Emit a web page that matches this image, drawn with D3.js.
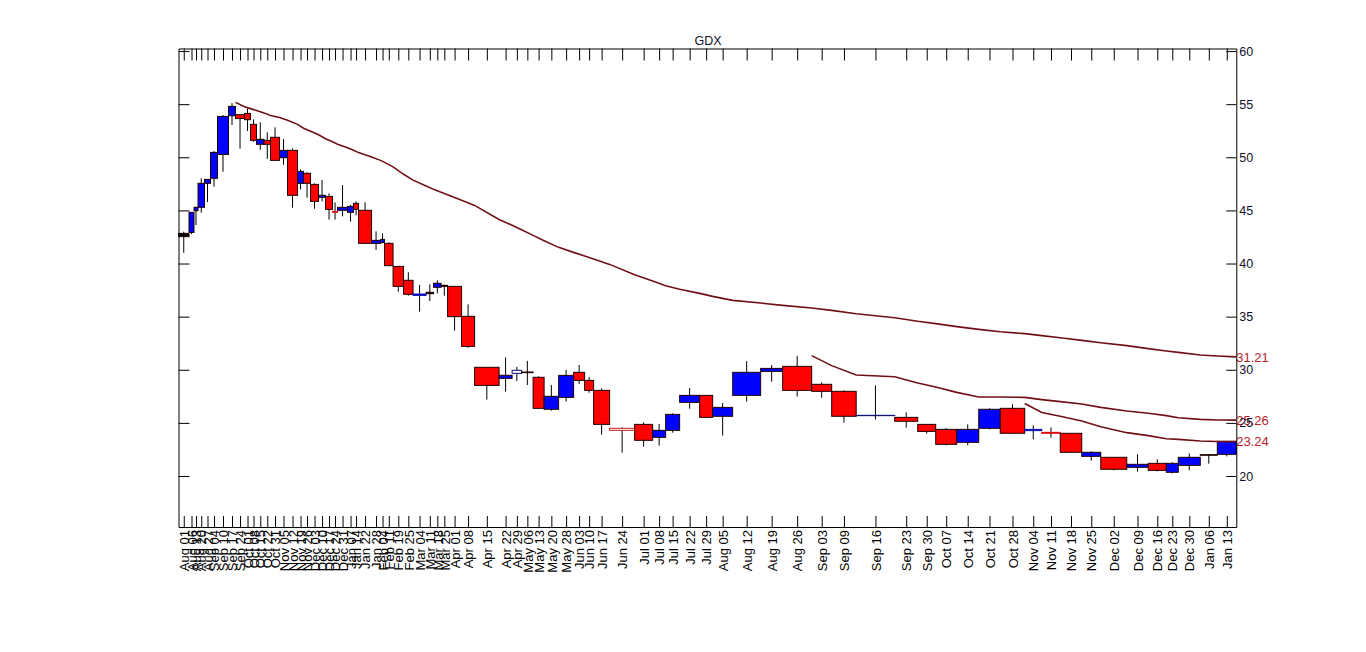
<!DOCTYPE html>
<html>
<head>
<meta charset="utf-8">
<script src="https://cdn.jsdelivr.net/npm/d3@7.9.0/dist/d3.min.js"></script>
<style>
  body { margin: 0; background: #fff; }
  text { font-family: "Liberation Sans", Arial, sans-serif; }
</style>
</head>
<body>
<svg id="chart" width="1366" height="652"></svg>
<script>
// weekly bars, Aug 2012 - Jan 2014
const dates = ["Aug 01","Aug 06","Aug 13","Aug 20","Aug 27","Sep 04","Sep 10","Sep 17","Sep 24","Oct 01","Oct 08","Oct 15","Oct 22","Oct 31","Nov 05","Nov 12","Nov 19","Nov 26","Dec 03","Dec 10","Dec 17","Dec 24","Dec 31","Jan 07","Jan 14","Jan 22","Jan 28","Feb 04","Feb 11","Feb 19","Feb 25","Mar 04","Mar 11","Mar 18","Mar 25","Apr 01","Apr 08","Apr 15","Apr 22","Apr 29","May 06","May 13","May 20","May 28","Jun 03","Jun 10","Jun 17","Jun 24","Jul 01","Jul 08","Jul 15","Jul 22","Jul 29","Aug 05","Aug 12","Aug 19","Aug 26","Sep 03","Sep 09","Sep 16","Sep 23","Sep 30","Oct 07","Oct 14","Oct 21","Oct 28","Nov 04","Nov 11","Nov 18","Nov 25","Dec 02","Dec 09","Dec 16","Dec 23","Dec 30","Jan 06","Jan 13"];
// candle width follows volume
const volumes = [21,10,8,13,12,14,22,14,18,12,12,15,13,18,16,20,12,14,16,14,14,10,20,12,10,26,18,8,17,21,19,26,15,15,13,28,26,49,26,19,23,22,29,30,22,18,32,50,36,26,28,40,26,40,56,44,58,40,49,77,46,36,42,44,43,49,34,37,43,38,52,43,36,24,44,34,38];
const opens = [42.53,42.93,44.97,45.29,47.55,48.02,50.27,53.91,54.01,54.13,53.10,51.22,51.59,51.88,49.96,50.65,47.55,48.49,47.45,46.23,46.32,44.91,45.01,44.82,45.66,45.01,41.90,41.99,41.90,39.73,38.42,37.00,37.16,37.76,37.85,37.85,35.03,30.23,29.19,29.66,29.73,29.29,26.28,27.40,29.76,29.00,28.06,24.49,24.86,23.64,24.30,26.93,27.59,25.62,27.59,29.85,30.32,28.63,27.97,25.68,25.52,24.86,24.39,23.17,24.49,26.37,24.27,24.11,24.02,21.85,21.76,20.82,21.19,20.35,21.00,21.95,22.04];
const highs = [43.00,44.85,45.35,48.02,47.95,50.59,53.98,55.10,54.02,54.60,53.57,53.29,52.35,52.82,51.72,50.84,48.86,48.58,47.55,47.86,46.60,45.76,47.39,45.51,45.85,45.76,43.03,42.84,41.99,39.73,39.17,37.98,38.04,38.42,38.01,37.85,36.16,30.23,31.17,30.26,30.83,29.38,28.56,29.98,30.45,29.32,28.25,24.58,25.05,24.89,25.90,28.28,27.59,26.87,30.82,30.45,31.29,28.82,28.06,28.53,25.99,24.86,24.49,24.86,26.37,26.75,24.77,24.58,24.02,22.32,21.76,22.04,21.57,21.29,22.13,22.04,23.26];
const lows = [41.02,42.78,43.62,44.78,45.79,47.23,48.64,53.04,50.81,52.47,51.47,50.71,49.84,49.71,49.30,45.26,46.98,46.20,45.16,45.85,44.13,44.13,44.44,43.94,44.53,41.90,41.27,41.90,39.80,37.35,36.97,35.47,36.47,37.19,36.97,33.68,32.08,27.19,27.94,28.94,28.57,26.37,26.15,27.00,28.66,27.84,23.89,22.20,22.76,22.86,24.08,26.34,25.52,23.80,27.00,28.88,27.47,27.37,25.02,25.33,24.55,23.98,22.89,22.89,24.39,24.02,23.45,23.61,22.23,21.44,20.53,20.41,20.44,20.25,20.53,21.16,21.85];
const closes = [42.84,44.82,45.29,47.55,47.92,50.46,53.85,54.79,53.66,53.54,51.59,51.69,51.22,49.71,50.65,46.42,48.67,47.55,45.85,46.42,45.10,44.82,45.29,45.38,45.10,41.90,42.18,42.27,39.80,37.85,37.10,37.13,37.29,38.14,37.95,35.00,32.20,28.53,29.48,29.95,29.79,26.37,27.50,29.47,29.00,28.06,24.86,24.30,23.36,24.30,25.80,27.59,25.52,26.46,29.76,30.13,28.06,27.97,25.62,25.71,25.15,24.20,22.98,24.39,26.28,24.02,24.39,24.02,22.23,22.23,20.63,21.10,20.53,21.19,21.76,22.01,23.26];

// moving averages, each one ends on the last bar
const maLong = [55.17,54.75,54.58,54.40,54.18,53.93,53.74,53.48,53.10,52.74,52.46,52.12,51.74,51.46,51.22,50.90,50.66,50.44,50.02,49.71,49.52,49.10,48.40,47.85,47.30,46.98,46.72,46.48,45.95,45.47,44.15,43.60,43.18,42.65,42.15,41.52,41.05,40.70,40.42,39.92,38.95,38.35,37.91,37.57,37.19,36.91,36.53,36.28,36.06,35.81,35.59,35.28,34.90,34.56,34.34,34.06,33.80,33.58,33.40,33.21,33.02,32.77,32.55,32.27,31.99,31.77,31.64,31.39,31.30,31.21];
const maMid = [31.33,30.39,29.51,29.35,28.75,28.38,27.87,27.44,27.44,27.40,27.19,27.00,26.78,26.46,26.12,25.90,25.68,25.49,25.33,25.27,25.26];
const maShort = [26.82,25.97,25.62,25.17,24.64,24.08,23.80,23.51,23.45,23.29,23.25,23.24];

const priceTicks = [20,25,30,35,40,45,50,55,60];

// bars that came out as plain lines or open boxes in the original
const blackBars = ["Aug 01","Mar 11","Mar 25","May 06","Jan 06"];
const bareBars = ["Dec 24","Mar 04","Sep 16","Nov 04","Nov 11"];
const hollowBars = ["Apr 29","Jun 24"];

const svg = d3.select('#chart');

// cumulative volume gives each bar's left and right edge
const edges = [0, ...d3.cumsum(volumes)];
const x = d3.scaleLinear().domain([0, edges[edges.length - 1]]).range([178.5, 1236.3]);
const y = d3.scaleLinear().domain([15.2, 60.24]).range([527, 48.5]);

const bars = dates.map((date, i) => ({
  date,
  open: opens[i], high: highs[i], low: lows[i], close: closes[i],
  left: edges[i], right: edges[i + 1], mid: (edges[i] + edges[i + 1]) / 2
}));

const fillOf = (d) => {
  if (blackBars.includes(d.date)) return '#000';
  if (hollowBars.includes(d.date)) return '#fff';
  return d.close > d.open ? '#0000ff' : '#ff0000';
};
const strokeOf = (d) => {
  if (d.date === 'Sep 16' || d.date === 'Apr 29') return '#10107a';
  if (d.date === 'Jun 24') return '#c81e1e';
  if (bareBars.includes(d.date)) return d.close > d.open ? '#1010b0' : '#e01010';
  return '#200000';
};

// wicks under the bodies
svg.append('g').selectAll('line').data(bars).join('line')
  .attr('x1', (d) => x(d.mid)).attr('x2', (d) => x(d.mid))
  .attr('y1', (d) => y(d.high)).attr('y2', (d) => y(d.low))
  .attr('stroke', '#000').attr('stroke-width', 1);

svg.append('g').selectAll('rect').data(bars).join('rect')
  .attr('x', (d) => x(d.left))
  .attr('width', (d) => x(d.right) - x(d.left))
  .attr('y', (d) => y(Math.max(d.open, d.close)))
  .attr('height', (d) => Math.abs(y(d.open) - y(d.close)))
  .attr('fill', fillOf)
  .attr('stroke', strokeOf)
  .attr('stroke-width', 1);

// moving average lines sit on the right edge of their bar
const maLine = d3.line().x((d) => x(d.pos)).y((d) => y(d.value));
[maLong, maMid, maShort].forEach((ma) => {
  const start = bars.length - ma.length;
  const pts = ma.map((value, i) => ({ value, pos: bars[start + i].right }));
  svg.append('path')
    .attr('d', maLine(pts))
    .attr('fill', 'none')
    .attr('stroke', '#701015')
    .attr('stroke-width', 1.6);
  svg.append('text')
    .attr('x', x.range()[1])
    .attr('y', y(ma[ma.length - 1]))
    .attr('dy', '0.36em')
    .attr('font-size', 13)
    .attr('fill', '#b5202c')
    .text(ma[ma.length - 1].toFixed(2));
});

// axes
const centers = bars.map((d) => d.mid);
svg.append('g').attr('transform', 'translate(0,48.5)')
  .call(d3.axisTop(x).tickValues(centers).tickSizeInner(-12).tickSizeOuter(0).tickFormat(''));

const bottom = svg.append('g').attr('transform', 'translate(0,527)')
  .call(d3.axisBottom(x).tickValues(centers).tickSizeInner(-11).tickSizeOuter(0).tickFormat((d, i) => dates[i]));
bottom.selectAll('text')
  .attr('transform', 'rotate(-90)')
  .attr('text-anchor', 'end')
  .attr('x', -3)
  .attr('y', 0)
  .attr('dy', '0.36em')
  .attr('font-size', 13)
  .attr('fill', '#000');

svg.append('g').attr('transform', `translate(${x.range()[0]},0)`)
  .call(d3.axisLeft(y).tickValues(priceTicks).tickSizeInner(-11).tickSizeOuter(0).tickFormat(''));

const right = svg.append('g').attr('transform', `translate(${x.range()[1]},0)`)
  .call(d3.axisRight(y).tickValues(priceTicks).tickSizeInner(-10).tickSizeOuter(0));
right.selectAll('text')
  .attr('x', 3)
  .attr('font-size', 12.5)
  .attr('fill', '#10102a');

svg.selectAll('.domain').attr('stroke', '#000');
svg.selectAll('.tick line').attr('stroke', '#000');

svg.append('text')
  .attr('x', 708).attr('y', 45)
  .attr('text-anchor', 'middle')
  .attr('font-size', 12.5)
  .attr('fill', '#10102a')
  .text('GDX');
</script>
</body>
</html>
